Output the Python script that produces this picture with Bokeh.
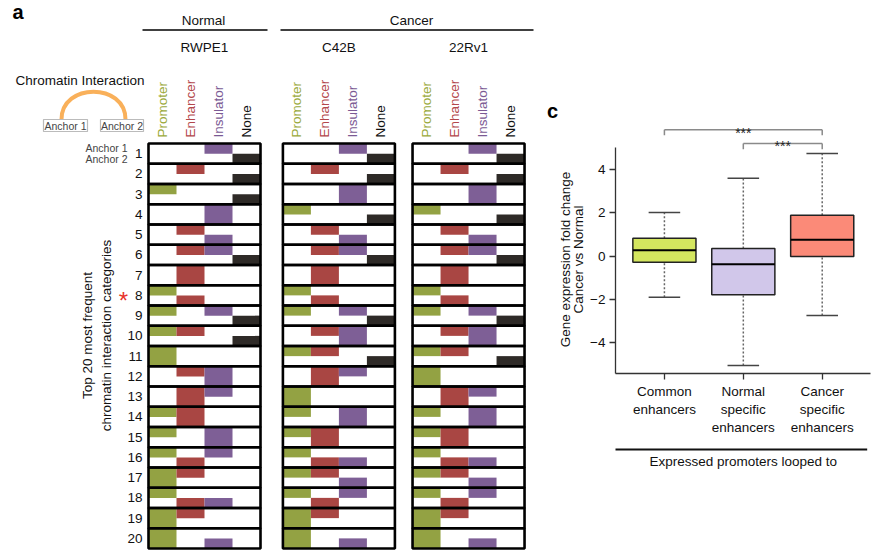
import numpy as np
from bokeh.plotting import figure
from bokeh.models import Range1d, FixedTicker, ColumnDataSource
from bokeh.layouts import row, column
from bokeh.embed import file_html
from bokeh.resources import INLINE
from bokeh.core.properties import value

# ---------------- data ----------------
categories = ["Promoter", "Enhancer", "Insulator", "None"]
cat_codes = ["P", "E", "I", "N"]
groups = ["Normal", "Cancer"]
cell_lines = ["RWPE1", "C42B", "22Rv1"]
row_labels = [str(i) for i in range(1, 21)]
highlight_row = 8

rwpe1_anchor1 = ["I", "E", "P", "I", "E", "EI", "E", "P", "PI", "PE",
                 "P", "EI", "EI", "PE", "PI", "PI", "PE", "P", "PE", "P"]
rwpe1_anchor2 = ["N", "N", "N", "I", "I", "N", "E", "E", "N", "N",
                 "P", "I", "E", "E", "I", "E", "P", "EI", "P", "PI"]
c42b_anchor1 = ["I", "E", "I", "P", "E", "EI", "E", "P", "PI", "EI",
                "PE", "EI", "P", "PI", "PE", "P", "PE", "PI", "PE", "P"]
c42b_anchor2 = ["N", "N", "I", "N", "I", "N", "E", "E", "N", "I",
                "N", "E", "P", "I", "E", "EI", "I", "E", "P", "PI"]
r22rv1_anchor1 = ["I", "E", "I", "P", "E", "EI", "E", "P", "PI", "EI",
                  "PE", "P", "EI", "PI", "PE", "P", "PE", "PI", "PE", "P"]
r22rv1_anchor2 = ["N", "N", "I", "N", "I", "N", "E", "E", "N", "I",
                  "N", "P", "E", "I", "E", "EI", "I", "E", "P", "PI"]

box_labels = ["Common\nenhancers", "Normal\nspecific\nenhancers", "Cancer\nspecific\nenhancers"]
box_q1 = [-0.29, -1.80, -0.02]
box_median = [0.27, -0.38, 0.75]
box_q3 = [0.83, 0.35, 1.89]
box_lower = [-1.91, -5.08, -2.76]
box_upper = [2.02, 3.61, 4.76]
comp_from = [1, 2]
comp_to = [3, 3]
comp_label = ["***", "***"]
y_label_lines = ["Gene expression fold change", "Cancer vs Normal"]
x_group_label = "Expressed promoters looped to"

# ---------------- style ----------------
FONT = "Liberation Sans"
cat_colors = ["#93a243", "#a94643", "#7e5f96", "#2e2a27"]
header_colors = ["#9aaa3c", "#b3474b", "#7b5a94", "#111111"]
box_colors = ["#d4e65f", "#d1c7ea", "#fb8a78"]
tf = value(FONT)

# ---------------- panel a (plus panel c's side texts) ----------------
A_W, H = 586, 551
COL_PX, ROW_PX = 28.0, 20.25
X0 = -148 / COL_PX
Y_TOP = -143 / ROW_PX


def X(sx):
    return sx / COL_PX + X0


def Y(sy):
    return sy / ROW_PX + Y_TOP


panel_offsets = [0.0, 4.80, 9.43]
panels = [(rwpe1_anchor1, rwpe1_anchor2), (c42b_anchor1, c42b_anchor2),
          (r22rv1_anchor1, r22rv1_anchor2)]

pa = figure(width=A_W, height=H,
            x_range=Range1d(X0, X0 + A_W / COL_PX),
            y_range=Range1d(Y_TOP + H / ROW_PX, Y_TOP),
            x_axis_location=None, y_axis_location=None,
            output_backend="svg", toolbar_location=None, min_border=0)
pa.grid.visible = False
pa.outline_line_color = None

cl, cr, ct, cb, cc = [], [], [], [], []
ol, orr, ot, ob = [], [], [], []
for p, (a1, a2) in enumerate(panels):
    off = panel_offsets[p]
    for r in range(len(row_labels)):
        for c, code in enumerate(cat_codes):
            t = code in a1[r]
            b = code in a2[r]
            if t or b:
                cl.append(off + c)
                cr.append(off + c + 1)
                ct.append(r if t else r + 0.5)
                cb.append(r + 1 if b else r + 0.5)
                cc.append(cat_colors[c])
        ol.append(off)
        orr.append(off + len(categories))
        ot.append(r)
        ob.append(r + 1)

pa.quad(left=cl, right=cr, top=ct, bottom=cb, fill_color=cc, line_color=None)
pa.quad(left=ol, right=orr, top=ot, bottom=ob, fill_color=None,
        line_color="black", line_width=2.6)

# column headers
hx, hc, ht = [], [], []
for p in range(3):
    for c in range(4):
        hx.append(panel_offsets[p] + c + 0.5)
        hc.append(header_colors[c])
        ht.append(categories[c])
pa.text(x=hx, y=[Y(137)] * len(hx), text=ht, angle=np.pi / 2,
        text_color=hc, text_font=tf, text_font_size="13.5px",
        text_align="left", text_baseline="middle")

# cell line names
pa.text(x=[o + 2 for o in panel_offsets], y=[Y(47)] * 3, text=cell_lines,
        text_font=tf, text_font_size="13.5px", text_color="#111",
        text_align="center", text_baseline="middle")
# groups
pa.text(x=[X(203), X(411)], y=[Y(20)] * 2, text=groups,
        text_font=tf, text_font_size="13.5px", text_color="#111",
        text_align="center", text_baseline="middle")
pa.segment(x0=[X(142), X(280)], x1=[X(267), X(533)], y0=[Y(29.5)] * 2,
           y1=[Y(29.5)] * 2, line_color="black", line_width=1.4)

# row numbers
pa.text(x=[X(142)] * len(row_labels), y=[r + 0.5 for r in range(len(row_labels))],
        text=row_labels, text_font=tf, text_font_size="13.5px", text_color="#111",
        text_align="right", text_baseline="middle")
pa.text(x=[X(127)] * 2, y=[Y(147), Y(158)], text=["Anchor 1", "Anchor 2"],
        text_font=tf, text_font_size="10.5px", text_color="#444",
        text_align="right", text_baseline="middle")
# highlight asterisk
pa.text(x=[X(123)], y=[highlight_row - 0.5], y_offset=[5], text=["*"],
        text_font=tf, text_font_size="24px", text_color="#e8322b",
        text_align="center", text_baseline="middle")

# y label
pa.text(x=[X(87), X(106)], y=[Y(335)] * 2,
        text=["Top 20 most frequent", "chromatin interaction categories"],
        angle=np.pi / 2, text_font=tf, text_font_size="13.5px", text_color="#111",
        text_align="center", text_baseline="middle")

# Chromatin interaction legend
pa.text(x=[X(79.5)], y=[Y(80)], text=["Chromatin Interaction"], text_font=tf,
        text_font_size="13.5px", text_color="#111", text_align="center",
        text_baseline="middle")
pa.bezier(x0=[X(61)], y0=[Y(119)], x1=[X(125)], y1=[Y(119)],
          cx0=[X(61)], cy0=[Y(82)], cx1=[X(125)], cy1=[Y(82)],
          line_color="#f9b05a", line_width=4)
pa.quad(left=[X(43), X(100)], right=[X(87), X(143)], top=[Y(119)] * 2,
        bottom=[Y(131)] * 2, fill_color="white", line_color="#bbbbbb", line_width=1.2)
pa.text(x=[X(65), X(121.5)], y=[Y(125.5)] * 2, text=["Anchor 1", "Anchor 2"],
        text_font=tf, text_font_size="10.5px", text_color="#444",
        text_align="center", text_baseline="middle")

# panel letters
pa.text(x=[X(17.5), X(552)], y=[Y(11.5), Y(110)], text=["a", "c"], text_font=tf,
        text_font_size="20px", text_font_style="bold", text_color="black",
        text_align="center", text_baseline="middle")

# panel c y-axis title (two rotated lines)
pa.text(x=[X(565), X(578)], y=[Y(259), Y(259)], text=y_label_lines, angle=np.pi / 2,
        text_font=tf, text_font_size="13.5px", text_color="#111",
        text_align="center", text_baseline="middle")

# ---------------- panel c ----------------
C_W = 872 - A_W
C_H = 440
C_LB, C_RB, C_TB = 615 - A_W, 2, 100
bx = np.arange(1, len(box_labels) + 1, dtype=float)
BW = 0.8
src = ColumnDataSource(dict(
    x=bx, left=bx - BW / 2, right=bx + BW / 2, capl=bx - BW / 4, capr=bx + BW / 4,
    q1=box_q1, q3=box_q3, med=box_median, lo=box_lower, hi=box_upper,
    color=box_colors))

XR = (0.38, 3.612)
YR = (-5.45, 7.216)
pc = figure(width=C_W, height=C_H, x_range=Range1d(*XR), y_range=Range1d(*YR),
            min_border_left=C_LB, min_border_right=C_RB, min_border_top=C_TB,
            min_border_bottom=C_H - 373, output_backend="svg", toolbar_location=None)
pc.grid.visible = False
pc.outline_line_color = None

pc.segment(x0="x", y0="q3", x1="x", y1="hi", source=src, line_color="#666",
           line_width=1.5, line_dash="2 2")
pc.segment(x0="x", y0="lo", x1="x", y1="q1", source=src, line_color="#666",
           line_width=1.5, line_dash="2 2")
pc.segment(x0="capl", y0="hi", x1="capr", y1="hi", source=src, line_color="#444",
           line_width=1.6)
pc.segment(x0="capl", y0="lo", x1="capr", y1="lo", source=src, line_color="#444",
           line_width=1.6)
pc.quad(left="left", right="right", bottom="q1", top="q3", source=src,
        fill_color="color", line_color="#222", line_width=1.5)
pc.segment(x0="left", y0="med", x1="right", y1="med", source=src,
           line_color="black", line_width=2)

# significance brackets
bracket_y = [5.86, 5.22]
drop = 0.26
fx = np.array(comp_from, dtype=float)
tx = np.array(comp_to, dtype=float)
by = np.array(bracket_y)
pc.segment(x0=fx, x1=tx, y0=by, y1=by, line_color="#8a8a8a", line_width=1.5)
pc.segment(x0=np.concatenate([fx, tx]), x1=np.concatenate([fx, tx]),
           y0=np.concatenate([by, by]), y1=np.concatenate([by - drop, by - drop]),
           line_color="#8a8a8a", line_width=1.5)
pc.text(x=(fx + tx) / 2, y=by - 0.13, text=comp_label, text_font=tf,
        text_font_size="14px", text_color="#222", text_align="center",
        text_baseline="alphabetic")

xa = pc.xaxis[0]
xa.ticker = FixedTicker(ticks=list(bx))
xa.major_label_overrides = {float(v): lab for v, lab in zip(bx, box_labels)}
ya = pc.yaxis[0]
ya.ticker = FixedTicker(ticks=[-4, -2, 0, 2, 4])
ya.major_label_overrides = {-4: "\u22124", -2: "\u22122", 0: "0", 2: "2", 4: "4"}
ya.bounds = (-5.45, 5.03)
for ax in (xa, ya):
    ax.axis_line_color = "#333"
    ax.axis_line_width = 1.3
    ax.major_tick_line_color = "#333"
    ax.major_tick_line_width = 1.3
    ax.major_tick_in = 0
    ax.major_tick_out = 6
    ax.minor_tick_line_color = None
    ax.major_label_standoff = 4
    ax.major_label_text_font = FONT
    ax.major_label_text_font_size = "13.5px"
    ax.major_label_text_color = "#111"

# ---------------- group label under panel c ----------------
px_per_x = 255 / (XR[1] - XR[0])
px_per_y = 273 / (YR[1] - YR[0])
B_H = H - C_H
pb = figure(width=C_W, height=B_H,
            x_range=Range1d(XR[0] - C_LB / px_per_x, XR[1] + C_RB / px_per_x),
            y_range=Range1d(YR[0] - (H - 373) / px_per_y, YR[0] - (C_H - 373) / px_per_y),
            x_axis_location=None, y_axis_location=None, min_border=0,
            output_backend="svg", toolbar_location=None)
pb.grid.visible = False
pb.outline_line_color = None
line_y = YR[0] - (449 - 373) / px_per_y
text_y = YR[0] - (461 - 373) / px_per_y
pb.segment(x0=[XR[0]], x1=[3.57], y0=[line_y], y1=[line_y], line_color="#111",
           line_width=2)
pb.text(x=[np.mean(bx)], y=[text_y], text=[x_group_label], text_font=tf,
        text_font_size="13.5px", text_color="#111", text_align="center",
        text_baseline="middle")

layout = row(column(pa), column(pc, column(pb)))
open("out.html", "w").write(file_html(layout, INLINE))
